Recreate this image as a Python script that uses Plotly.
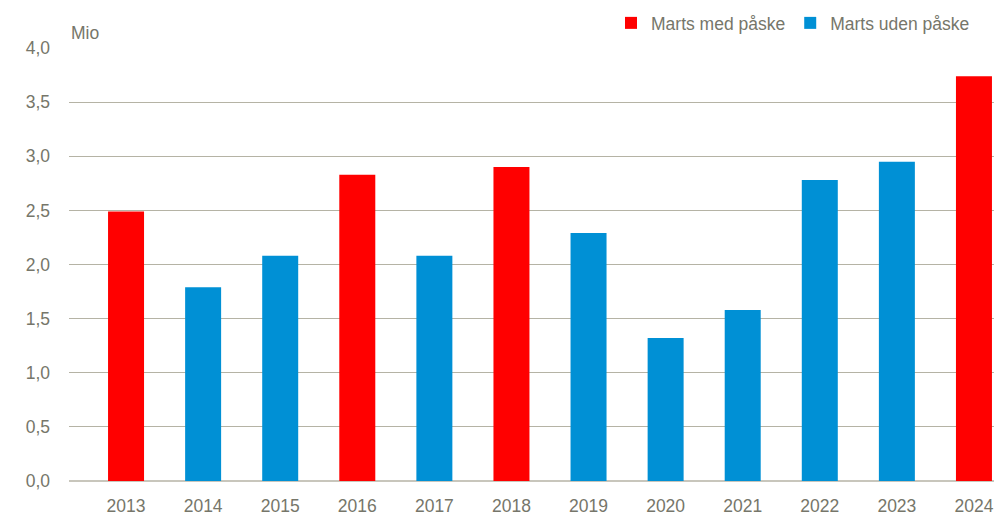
import plotly.graph_objects as go

years = ["2013", "2014", "2015", "2016", "2017", "2018", "2019", "2020", "2021", "2022", "2023", "2024"]
values = [2.49, 1.79, 2.08, 2.83, 2.08, 2.90, 2.29, 1.32, 1.58, 2.78, 2.95, 3.74]
easter = [True, False, False, True, False, True, False, False, False, False, False, True]

RED = "#FF0000"
BLUE = "#0090D5"
TXT = "#76766a"
FONT = "Liberation Sans, Arial, sans-serif"
FS = 17.5

x_idx = list(range(len(years)))
xr = [i for i, e in zip(x_idx, easter) if e]
yr = [v for v, e in zip(values, easter) if e]
xb = [i for i, e in zip(x_idx, easter) if not e]
yb = [v for v, e in zip(values, easter) if not e]

fig = go.Figure()
fig.add_bar(x=xr, y=yr, name="Marts med påske", marker_color=RED, width=0.467,
            marker_line_width=0)
fig.add_bar(x=xb, y=yb, name="Marts uden påske", marker_color=BLUE, width=0.467,
            marker_line_width=0)

W, H = 997, 509  # page body has an 8px margin
fig.update_layout(
    width=W, height=H,
    margin=dict(l=61, r=11, t=40, b=36, autoexpand=False),
    paper_bgcolor="white", plot_bgcolor="white",
    separators=",.",
    font=dict(family=FONT, size=FS, color=TXT),
    barmode="overlay",
    showlegend=True,
    legend=dict(orientation="h", xref="container", yref="container",
                x=967 / W, xanchor="right", y=1 - 15 / H, yanchor="middle",
                font=dict(family=FONT, size=FS, color=TXT), itemwidth=30,
                traceorder="normal", bgcolor="rgba(0,0,0,0)"),
    xaxis=dict(range=[-0.74, 11.26], tickmode="array", tickvals=x_idx, ticktext=years,
               showgrid=False, zeroline=False, showline=False, ticks="",
               automargin=False, ticklabelstandoff=12, tickfont=dict(family=FONT, size=FS, color=TXT)),
    yaxis=dict(range=[0, 4.0], tickmode="linear", tick0=0, dtick=0.5, tickformat=".1f",
               showgrid=True, gridcolor="#b5b3a5", gridwidth=1.3,
               zeroline=True, zerolinecolor="#c8c6bc", zerolinewidth=2,
               showline=False, ticks="", ticklabelstandoff=18, automargin=False,
               tickfont=dict(family=FONT, size=FS, color=TXT)),
)
fig.add_annotation(text="Mio", xref="paper", yref="paper", x=0, y=1.0, xanchor="left",
                   yanchor="bottom", yshift=3, showarrow=False,
                   font=dict(family=FONT, size=FS, color=TXT))

fig.write_html("out.html")
